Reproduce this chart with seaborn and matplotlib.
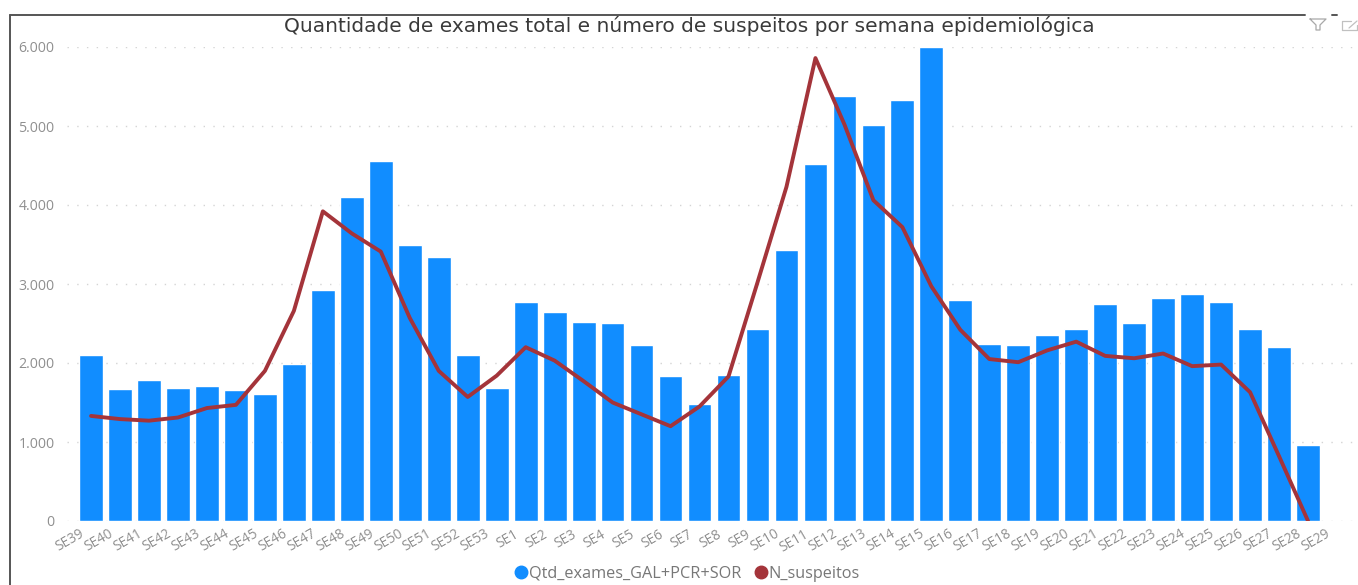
import numpy as np
import pandas as pd
import seaborn as sns
import matplotlib
matplotlib.use('Agg')
import matplotlib.pyplot as plt
from matplotlib.lines import Line2D
from matplotlib.ticker import FuncFormatter
from matplotlib.transforms import ScaledTranslation

semanas = ['SE39', 'SE40', 'SE41', 'SE42', 'SE43', 'SE44', 'SE45', 'SE46', 'SE47', 'SE48', 'SE49',
           'SE50', 'SE51', 'SE52', 'SE53', 'SE1', 'SE2', 'SE3', 'SE4', 'SE5', 'SE6', 'SE7', 'SE8',
           'SE9', 'SE10', 'SE11', 'SE12', 'SE13', 'SE14', 'SE15', 'SE16', 'SE17', 'SE18', 'SE19',
           'SE20', 'SE21', 'SE22', 'SE23', 'SE24', 'SE25', 'SE26', 'SE27', 'SE28', 'SE29']

# the picture has one bar less than labels, SE29 stays empty
exames = [2105, 1675, 1785, 1685, 1705, 1660, 1605, 1985, 2920, 4095, 4560, 3500, 3340, 2095, 1685,
          2770, 2640, 2520, 2505, 2230, 1835, 1475, 1845, 2430, 3425, 4520, 5385, 5010, 5335, 6000,
          2795, 2245, 2225, 2355, 2430, 2745, 2505, 2820, 2870, 2770, 2425, 2205, 965]
suspeitos = [1330, 1290, 1270, 1310, 1430, 1470, 1900, 2660, 3920, 3640, 3410, 2570, 1900, 1570, 1840,
             2200, 2030, 1770, 1500, 1350, 1200, 1450, 1830, 3020, 4230, 5860, 5020, 4060, 3720, 2970,
             2420, 2050, 2010, 2160, 2270, 2090, 2060, 2120, 1960, 1980, 1630, 820, 0]

titulo = 'Quantidade de exames total e número de suspeitos por semana epidemiológica'
nome_barras = 'Qtd_exames_GAL+PCR+SOR'
nome_linha = 'N_suspeitos'
azul = '#118DFF'
vermelho = '#A4343A'
cinza = '#8f8f8f'

sns.set_theme(style='white')
plt.rcParams['font.family'] = ['Open Sans', 'DejaVu Sans']

W, H = 1358, 585
fig = plt.figure(figsize=(W / 100, H / 100), dpi=100, facecolor='white')
ax = fig.add_axes([67 / W, 1 - 521 / H, (1357 - 67) / W, (521 - 47) / H])

df = pd.DataFrame({'semana': semanas[:len(exames)], 'exames': exames})
sns.barplot(data=df, x='semana', y='exames', order=semanas, color=azul, saturation=1,
            width=0.82, ax=ax)
sns.lineplot(x=np.arange(len(suspeitos)), y=suspeitos, color=vermelho, linewidth=2.8, ax=ax)

ax.set_xlim(-0.83, 43.69)
ax.set_ylim(0, 6000)
ax.set_xlabel('')
ax.set_ylabel('')
ax.set_yticks(range(0, 6001, 1000))
ax.yaxis.set_major_formatter(FuncFormatter(lambda v, p: f'{int(v):,}'.replace(',', '.')))
ax.yaxis.grid(True, linestyle=(0, (1, 6)), color='#d4d4d4', linewidth=1)
ax.set_axisbelow(True)
sns.despine(ax=ax, left=True, bottom=True)
ax.tick_params(axis='y', length=0, pad=9, labelsize=10.2, labelcolor=cinza)
ax.tick_params(axis='x', length=0, pad=4, labelsize=9.8, labelcolor=cinza)

ax.set_xticks(range(len(semanas)))
ax.set_xticklabels(semanas, rotation=30, ha='right', rotation_mode='anchor')
desloc = ScaledTranslation(-12 / 100, 0, fig.dpi_scale_trans)
for lab in ax.get_xticklabels():
    lab.set_transform(lab.get_transform() + desloc)

fig.text(689 / W, 1 - 26 / H, titulo, ha='center', va='center', fontsize=14.5,
         color='#3a3a3a', family='DejaVu Sans')

# moldura do visual
fig.add_artist(Line2D([10 / W, 10 / W], [0, 1 - 15 / H], color='#555555', linewidth=1.4))
fig.add_artist(Line2D([10 / W, 1305 / W], [1 - 15 / H, 1 - 15 / H], color='#555555', linewidth=1.4))
fig.add_artist(Line2D([1332 / W, 1337 / W], [1 - 15 / H, 1 - 15 / H], color='#555555', linewidth=1.4))

# icones do Power BI
fig.add_artist(Line2D(np.array([1310, 1326, 1320, 1320, 1316, 1316, 1310]) / W,
                      1 - np.array([19, 19, 25, 30, 30, 25, 19]) / H, color='#a8a8a8', linewidth=0.9))
fig.add_artist(Line2D(np.array([1351, 1342, 1342, 1357, 1357]) / W,
                      1 - np.array([21, 21, 30, 30, 25]) / H, color='#c0c0c0', linewidth=0.9))
fig.add_artist(Line2D(np.array([1349, 1357]) / W, 1 - np.array([28, 21]) / H, color='#c0c0c0', linewidth=0.9))

handles = [Line2D([], [], linestyle='none', marker='o', markersize=9, color=azul, label=nome_barras),
           Line2D([], [], linestyle='none', marker='o', markersize=9, color=vermelho, label=nome_linha)]
fig.legend(handles=handles, loc='center', bbox_to_anchor=(687 / W, 1 - 574 / H), ncol=2, frameon=False,
           fontsize=11.7, labelcolor='#777777', handlelength=0.8, handletextpad=0.1, columnspacing=0.8)

fig.savefig('out.png', dpi=100)
